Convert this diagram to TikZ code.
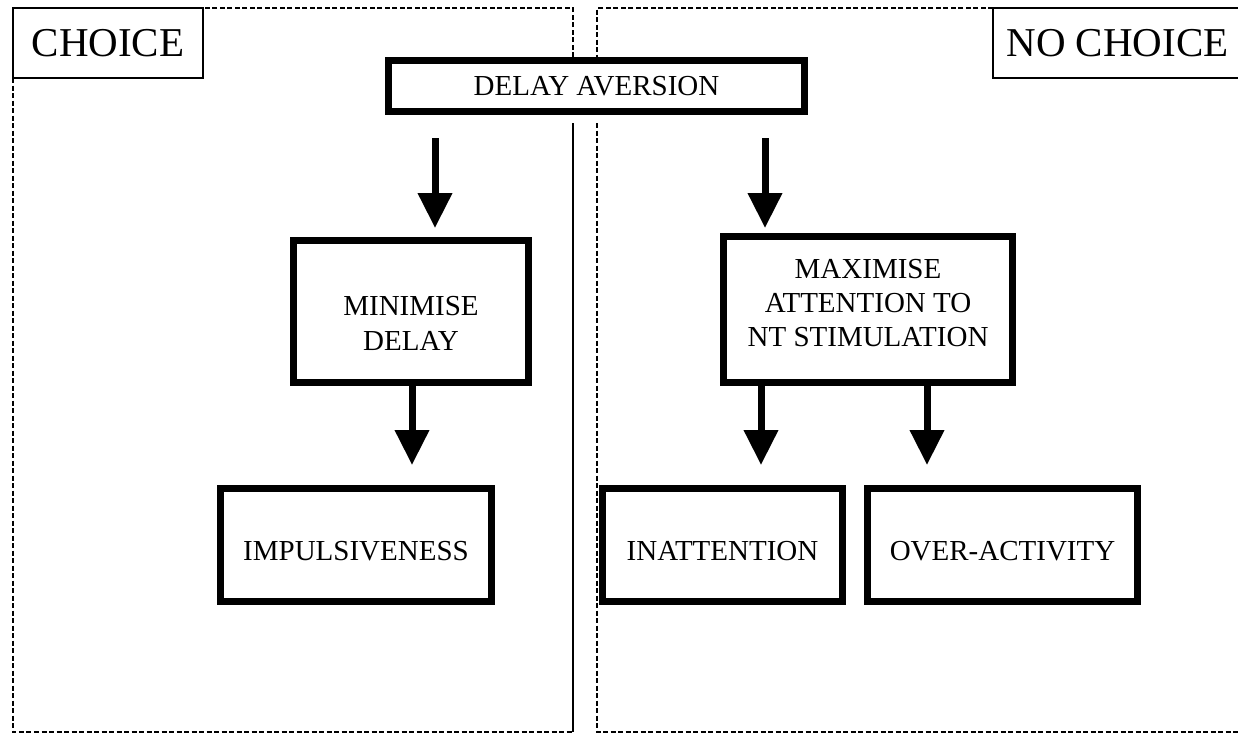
\documentclass[tikz,border=0pt]{standalone}
\usepackage{fontspec}
\setmainfont{Liberation Serif}
\usepackage{tikz}
\usetikzlibrary{arrows.meta, positioning}
% text set a little off the middle of its box
\newcommand{\movetext}[2]{\raisebox{#1}[\height][\depth]{\begin{tabular}{@{}c@{}}#2\end{tabular}}}

\begin{document}
\begin{tikzpicture}[x=1pt, y=-1pt,
  box/.style={draw, line width=7pt, align=center, inner sep=0pt, font=\fontsize{29}{34}\selectfont},
  tag/.style={draw, line width=2pt, inner sep=0pt, font=\fontsize{41}{48}\selectfont},
  arr/.style={line width=7pt, -{Triangle[width=33pt,length=35pt]}},
  panel/.style={line width=1.6pt, dash pattern=on 5pt off 2.5pt}]
\useasboundingbox (0,0) rectangle (1238,734);
% corner labels
\node[tag, minimum width=190pt, minimum height=70pt] (choice) at (108,43) {CHOICE};
\node[tag, minimum width=249pt, minimum height=70pt] (nochoice) at (1117.5,43) {NO CHOICE};
% the two panels
\draw[panel] (13,78) -- (13,732) -- (573,732);
\draw[line width=1.8pt] (573,732) -- (573,123);
\draw[panel] (573,57) -- (573,8) -- (203,8);
\draw[panel] (993,8) -- (597,8) -- (597,57);
\draw[panel] (597,123) -- (597,732) -- (1240,732);
% boxes
\node[box, minimum width=416pt, minimum height=51pt] (delay) at (596.5,86) {DELAY AVERSION};
\node[box, minimum width=235pt, minimum height=142pt, font=\fontsize{29}{35}\selectfont] (mini) at (411,311.5) {\movetext{-14.5pt}{MINIMISE\\DELAY}};
\node[box, minimum width=289pt, minimum height=146pt] (maxi) at (868,309.5) {\movetext{4pt}{MAXIMISE\\ATTENTION TO\\NT STIMULATION}};
\node[box, minimum width=271pt, minimum height=113pt] (impuls) at (356,545) {\movetext{-9pt}{IMPULSIVENESS}};
\node[box, minimum width=240pt, minimum height=113pt] (inatt) at (722.5,545) {\movetext{-9pt}{INATTENTION}};
\node[box, minimum width=270pt, minimum height=113pt] (overact) at (1002.5,545) {\movetext{-9pt}{OVER-ACTIVITY}};
% arrows
\draw[arr] ([xshift=-161.5pt,yshift=-23pt]delay.south) -- ([xshift=24pt,yshift=9pt]mini.north);
\draw[arr] ([xshift=168.5pt,yshift=-23pt]delay.south) -- ([xshift=-103pt,yshift=5pt]maxi.north);
\draw[arr] ([xshift=1pt]mini.south) -- ([xshift=56pt,yshift=20pt]impuls.north);
\draw[arr] ([xshift=-107pt]maxi.south) -- ([xshift=38.5pt,yshift=20pt]inatt.north);
\draw[arr] ([xshift=59pt]maxi.south) -- ([xshift=-75.5pt,yshift=20pt]overact.north);
\end{tikzpicture}
\end{document}
